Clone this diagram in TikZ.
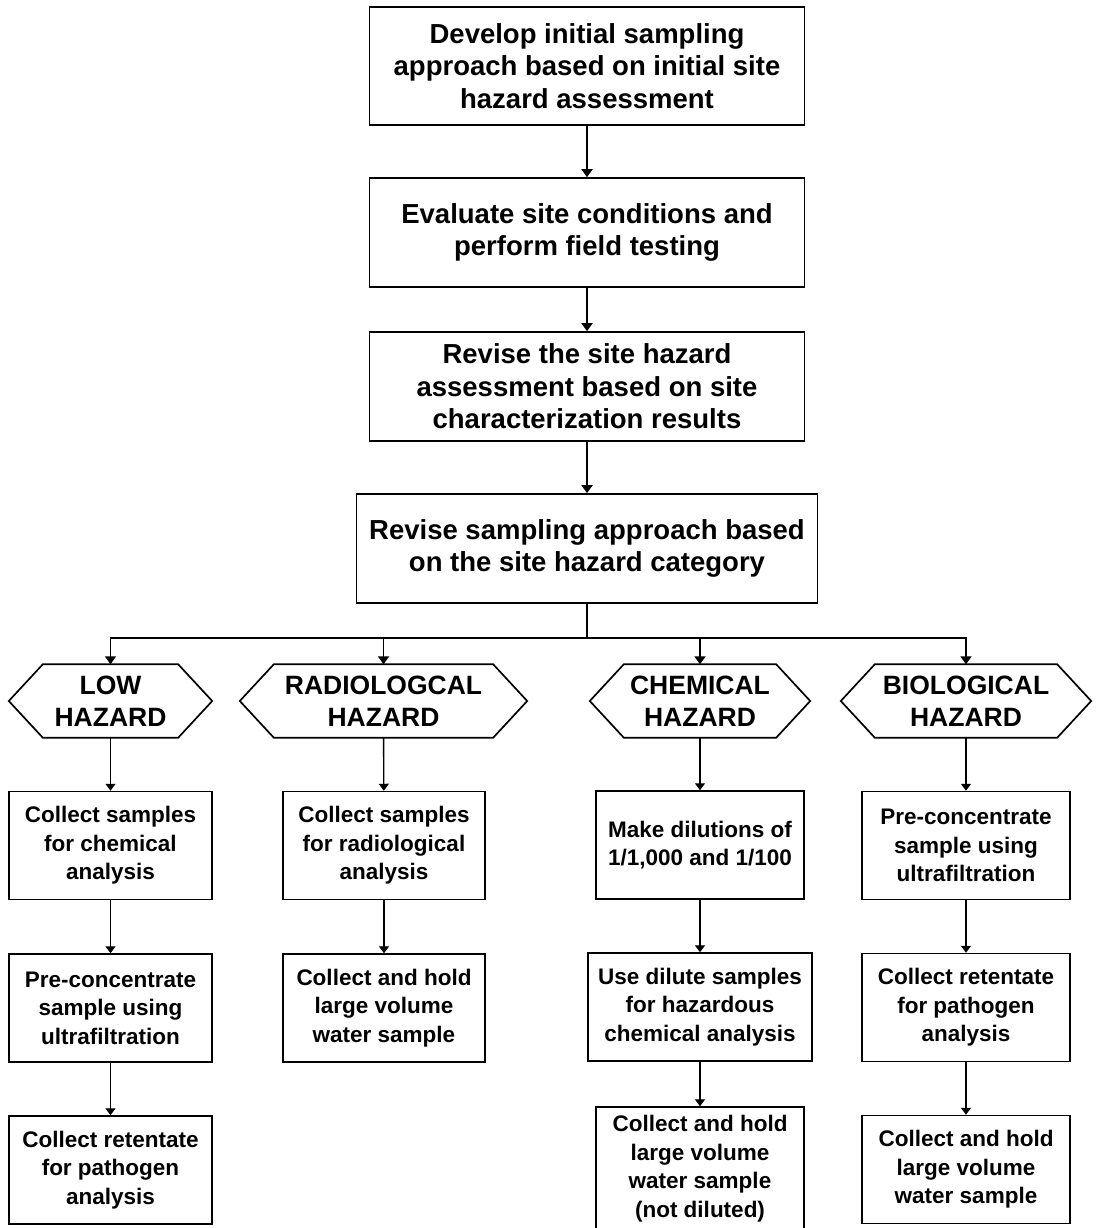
\documentclass[tikz,border=0pt]{standalone}
\usepackage{fontspec}
\setmainfont{Liberation Sans}
\usetikzlibrary{arrows.meta}
\begin{document}
\begin{tikzpicture}[x=1pt,y=-1pt,
  topbox/.style={draw, line width=1.7pt, align=center, inner sep=0pt,
    font=\fontsize{27.5}{32.5}\selectfont\bfseries,
    minimum width=435pt, minimum height=109pt},
  stepbox/.style={draw, line width=1.5pt, align=center, inner sep=0pt,
    font=\fontsize{22.5}{28.5}\selectfont\bfseries, minimum height=108pt},
  hexlabel/.style={inner sep=0pt, minimum height=73pt, align=center,
    font=\fontsize{26.5}{32}\selectfont\bfseries},
  hexline/.style={draw, line width=1.7pt, line join=miter},
  flow/.style={line width=1.8pt, -{Triangle[width=11pt,length=8pt]}},
  subflow/.style={line width=1.4pt, -{Triangle[width=10pt,length=7pt]}}]

\useasboundingbox (0,0) rectangle (1105,1228);
\clip (0,0) rectangle (1105,1228);

% main sequence
\node[topbox, minimum height=118pt] (dev) at (587,66)
  {Develop initial sampling\\approach based on initial site\\hazard assessment};
\node[topbox] (eval) at (587,232.5)
  {Evaluate site conditions and\\perform field testing};
\node[topbox] (rha) at (587,386.5)
  {Revise the site hazard\\assessment based on site\\characterization results};
\node[topbox, minimum width=461pt] (rsa) at (587,548.5)
  {Revise sampling approach based\\on the site hazard category};

\draw[flow] (dev) -- (eval);
\draw[flow] (eval) -- (rha);
\draw[flow] (rha) -- (rsa);

% hazard categories
\node[hexlabel, minimum width=135pt] (lowhz) at (110.5,701) {LOW\\HAZARD};
\node[hexlabel, minimum width=219pt] (radhz) at (383.5,701) {RADIOLOGCAL\\HAZARD};
\node[hexlabel, minimum width=152pt] (chemhz) at (700,701) {CHEMICAL\\HAZARD};
\node[hexlabel, minimum width=182pt] (biohz) at (966,701) {BIOLOGICAL\\HAZARD};

\foreach \n in {lowhz,radhz,chemhz,biohz}
  \draw[hexline] (\n.north west) -- (\n.north east) -- ([xshift=34pt]\n.east)
    -- (\n.south east) -- (\n.south west) -- ([xshift=-34pt]\n.west) -- cycle;

% branching
\coordinate (split) at (587,638);
\draw[line width=1.8pt] (rsa.south) -- (split);
\foreach \n in {lowhz,radhz,chemhz,biohz}
  \draw[flow, line join=miter] (split) -| (\n.north);

% low hazard column
\node[stepbox, minimum width=203pt] (l1) at (110.5,845.5)
  {Collect samples\\for chemical\\analysis};
\node[stepbox, minimum width=203pt] (l2) at (110.5,1008)
  {Pre-concentrate\\sample using\\ultrafiltration};
\node[stepbox, minimum width=203pt] (l3) at (110.5,1170)
  {Collect retentate\\for pathogen\\analysis};

% radiological hazard column
\node[stepbox, minimum width=202pt] (r1) at (384,845.5)
  {Collect samples\\for radiological\\analysis};
\node[stepbox, minimum width=202pt] (r2) at (384,1008)
  {Collect and hold\\large volume\\water sample};

% chemical hazard column
\node[stepbox, minimum width=208pt] (c1) at (700,845)
  {Make dilutions of\\1/1,000 and 1/100};
\node[stepbox, minimum width=224pt] (c2) at (700,1007)
  {Use dilute samples\\for hazardous\\chemical analysis};
\node[stepbox, minimum width=208pt, minimum height=123pt] (c3) at (700,1168.5)
  {Collect and hold\\large volume\\water sample\\(not diluted)};

% biological hazard column
\node[stepbox, minimum width=208pt] (b1) at (966,845.5)
  {Pre-concentrate\\sample using\\ultrafiltration};
\node[stepbox, minimum width=208pt] (b2) at (966,1007.5)
  {Collect retentate\\for pathogen\\analysis};
\node[stepbox, minimum width=208pt] (b3) at (966,1169.5)
  {Collect and hold\\large volume\\water sample};

\draw[subflow] (lowhz) -- (l1);
\draw[subflow] (l1) -- (l2);
\draw[subflow] (l2) -- (l3);
\draw[subflow] (radhz) -- (r1);
\draw[subflow] (r1) -- (r2);
\draw[subflow] (chemhz) -- (c1);
\draw[subflow] (c1) -- (c2);
\draw[subflow] (c2) -- (c3);
\draw[subflow] (biohz) -- (b1);
\draw[subflow] (b1) -- (b2);
\draw[subflow] (b2) -- (b3);
\end{tikzpicture}
\end{document}
